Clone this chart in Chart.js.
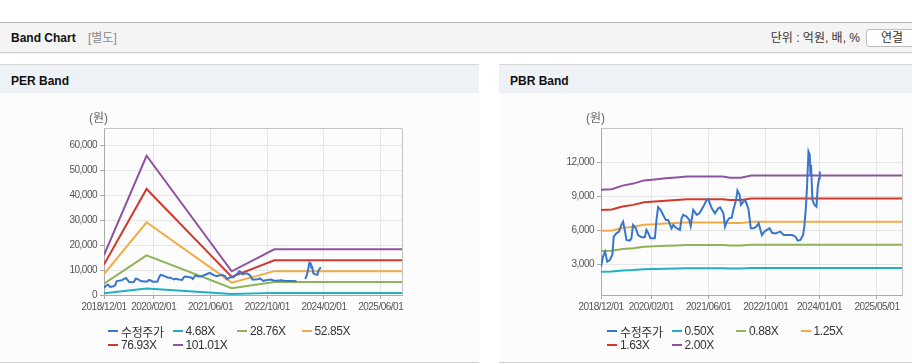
<!DOCTYPE html>
<html lang="ko">
<head>
<meta charset="utf-8">
<script src="https://cdn.jsdelivr.net/npm/chart.js@4.4.1/dist/chart.umd.min.js"></script>
<style>
html,body{margin:0;padding:0;background:#fff;}
body{width:912px;height:364px;position:relative;overflow:hidden;font-family:"Liberation Sans","Noto Sans CJK KR",sans-serif;color:#333;}
.topbar{position:absolute;left:0;top:22px;width:912px;height:29px;background:#f4f4f4;border-top:1px solid #b9b9b9;border-bottom:1px solid #cccccc;box-shadow:0 1px 2px rgba(0,0,0,0.07);}
.topbar .title{position:absolute;left:11px;top:0;line-height:30px;font-weight:bold;font-size:12px;color:#111;}
.topbar .sub{position:absolute;left:88px;top:0;line-height:30px;font-size:12px;color:#8a8a8a;}
.topbar .unit{position:absolute;right:52px;top:0;line-height:30px;font-size:12px;color:#333;}
.topbar .btn{position:absolute;left:866px;top:6px;width:60px;height:16px;border:1px solid #bdbdbd;border-radius:3px;background:#fff;font-size:12px;line-height:16px;padding-left:14px;box-sizing:content-box;color:#333;}
.panel{position:absolute;top:64px;height:297px;background:#fcfcfc;border-top:1px solid #d6d6d6;border-bottom:1px solid #d2d2d2;}
.panel .ph{height:28px;background:#eef2f7;line-height:32px;font-weight:bold;font-size:12px;color:#111;padding-left:11px;}
.unitlbl{position:absolute;top:46px;font-size:12px;line-height:14px;color:#666;z-index:2;}
.chartbox{position:absolute;left:0;top:28px;}
.legend{position:absolute;left:108px;top:259px;width:260px;display:flex;flex-wrap:wrap;z-index:2;}
.legend .item{width:64.5px;height:14px;display:flex;align-items:center;font-size:12px;font-family:"Liberation Sans","Noto Sans CJK KR",sans-serif;letter-spacing:-0.4px;color:#333;white-space:nowrap;}
.legend .mk{width:10px;height:2px;margin-right:3px;flex:none;}
</style>
</head>
<body>
<div class="topbar">
  <span class="title">Band Chart</span>
  <span class="sub">[별도]</span>
  <span class="unit">단위 : 억원, 배, %</span>
  <span class="btn">연결</span>
</div>

<div class="panel" style="left:0;width:479px;">
  <div class="ph">PER Band</div>
  <div class="unitlbl" style="left:89px;">(원)</div>
  <div class="chartbox"><canvas id="perChart" width="479" height="269"></canvas></div>
  <div class="legend" id="perLegend"></div>
</div>

<div class="panel" style="left:499px;width:413px;">
  <div class="ph">PBR Band</div>
  <div class="unitlbl" style="left:87px;">(원)</div>
  <div class="chartbox"><canvas id="pbrChart" width="413" height="269"></canvas></div>
  <div class="legend" id="pbrLegend"></div>
</div>

<script>
// ---------------- DATA ----------------
const xStart = '2018/12/01';
const xEnd = '2025/12/01';
const perXTickLabels = ['2018/12/01','2020/02/01','2021/06/01','2022/10/01','2024/02/01','2025/06/01'];
const pbrXTickLabels = ['2018/12/01','2020/02/01','2021/06/01','2022/10/01','2024/01/01','2025/05/01'];
const perYTicks = [0,10000,20000,30000,40000,50000,60000];
const pbrYTicks = [3000,6000,9000,12000];

// 수정주가 (adjusted price)
const priceDates = ['2018/12/01','2018/12/18','2019/01/05','2019/01/24','2019/02/14','2019/03/06','2019/03/18','2019/04/10','2019/05/02','2019/05/22','2019/06/06','2019/06/20','2019/07/04','2019/08/02','2019/08/16','2019/08/30','2019/09/22','2019/10/12','2019/11/10','2019/12/08','2019/12/22','2020/01/06','2020/01/26','2020/03/02','2020/03/16','2020/03/30','2020/04/20','2020/05/12','2020/06/04','2020/06/24','2020/07/22','2020/08/06','2020/09/04','2020/10/02','2020/10/16','2020/10/30','2020/11/28','2020/12/21','2021/01/02','2021/01/24','2021/02/21','2021/03/15','2021/04/18','2021/05/16','2021/05/30','2021/06/28','2021/07/26','2021/08/24','2021/09/08','2021/10/06','2021/10/20','2021/11/04','2021/11/24','2021/12/16','2021/12/30','2022/01/23','2022/02/03','2022/02/20','2022/03/02','2022/03/25','2022/04/08','2022/05/06','2022/05/26','2022/06/18','2022/07/11','2022/08/01','2022/08/29','2022/09/18','2022/10/10','2022/11/03','2022/11/23','2022/12/21','2023/02/02','2023/03/01','2023/04/12','2023/05/11','2023/06/09','2023/06/28','2023/07/21','2023/08/13','2023/08/24','2023/09/05','2023/09/16','2023/09/28','2023/10/09','2023/10/15','2023/10/20','2023/11/01','2023/11/18','2023/12/05','2023/12/16','2023/12/28','2024/01/03'];
const priceValues = [2820,3700,4140,3260,3400,3850,5460,5750,5900,6490,6780,6050,5170,5110,5320,6490,6200,5600,5400,5400,6050,5800,5320,5320,6930,8040,7810,7370,6930,6930,6200,6490,6200,6050,7070,7370,7220,6930,6400,7810,7370,7510,8100,8690,8750,7950,7510,7950,8040,7510,6340,6780,7070,7130,7810,8690,9510,9130,8250,8540,8690,7870,6200,6200,6340,6630,5600,5900,6050,6200,5800,5750,5900,5600,5600,5600,5460,5110,5170,5600,6340,7810,9860,12940,12650,10890,11770,8690,8250,8100,9860,10590,11180];
// period with no price shown on the PER chart
const perPriceGap = ['2023/06/20','2023/08/20'];

// PER band
const perSeriesNames = ['수정주가','4.68X','28.76X','52.85X','76.93X','101.01X'];
const perBandDates = ['2018/12/01','2019/12/01','2021/12/01','2022/12/01','2025/12/01'];
const per468  = [740, 2580, 440, 850, 850];
const per2876 = [4550, 15850, 2700, 5200, 5200];
const per5285 = [8370, 29100, 4960, 9550, 9550];
const per7693 = [12180, 42400, 7220, 13900, 13900];
const per10101 = [15960, 55700, 9480, 18300, 18300];

// PBR band
const pbrSeriesNames = ['수정주가','0.50X','0.88X','1.25X','1.63X','2.00X'];
const pbrBandDates = ['2018/12/01','2019/03/01','2019/06/01','2019/09/01','2019/12/01','2020/03/01','2020/06/01','2020/09/01','2020/12/01','2021/10/01','2021/12/01','2022/03/01','2022/06/01','2025/12/01'];
const pbr050 = [2390,2400,2490,2530,2600,2620,2650,2670,2690,2690,2660,2660,2710,2710];
const pbr088 = [4210,4230,4370,4450,4580,4610,4660,4690,4730,4730,4680,4680,4760,4760];
const pbr125 = [5980,6010,6210,6330,6500,6550,6610,6660,6710,6710,6650,6650,6760,6760];
const pbr163 = [7800,7840,8100,8250,8480,8540,8620,8690,8750,8750,8670,8670,8820,8820];
const pbr200 = [9570,9620,9940,10120,10400,10480,10580,10660,10740,10740,10640,10640,10820,10820];

const perYMax = 66800;
const pbrYMin = 340, pbrYMax = 15000;

// ---------------- STYLE ----------------
const seriesColors = ['#3876cc','#1fb0c4','#8fb356','#f2aa43','#d3382d','#8e54a0'];
const tickFont = {family:'"Liberation Sans",sans-serif', size:10};

// ---------------- HELPERS ----------------
function monthIndex(s){
  const [y,m,d] = s.split('/').map(Number);
  const [y0,m0] = xStart.split('/').map(Number);
  const dim = new Date(y, m, 0).getDate();
  return (y-y0)*12 + (m-m0) + (d-1)/dim;
}
function pts(dates, values){ return dates.map((d,i)=>({x:monthIndex(d), y:values[i]})); }
function gapPts(dates, values, gap){
  const a = monthIndex(gap[0]), b = monthIndex(gap[1]);
  return dates.map((d,i)=>{ const x = monthIndex(d); return {x, y:(x>a && x<b)?null:values[i]}; });
}

const condensePlugin = {
  id:'condense',
  beforeUpdate(chart){ chart.ctx.letterSpacing = '-0.5px'; },
  beforeDraw(chart){ chart.ctx.letterSpacing = '-0.5px'; }
};

const framePlugin = {
  id:'frame',
  beforeDatasetsDraw(chart){
    const {ctx, chartArea:a} = chart;
    ctx.save();
    ctx.lineWidth = 1;
    ctx.strokeStyle = '#c4c4c4';
    ctx.beginPath();
    ctx.moveTo(Math.round(a.left)+0.5, Math.round(a.top)+0.5);
    ctx.lineTo(Math.round(a.right)+0.5, Math.round(a.top)+0.5);
    ctx.lineTo(Math.round(a.right)+0.5, Math.round(a.bottom)+0.5);
    ctx.stroke();
    ctx.restore();
  }
};

function buildChart(canvasId, legendId, names, datasetsData, xLabels, yTicks, yMin, yMax, yAxisWidth, padRight){
  const xTickVals = xLabels.map(monthIndex);
  const datasets = datasetsData.map((data,i)=>({
    label: names[i], data, borderColor: seriesColors[i], backgroundColor: seriesColors[i],
    borderWidth: 2, pointRadius: 0, pointHoverRadius: 0, tension: 0, fill: false, spanGaps: false
  }));
  const chart = new Chart(document.getElementById(canvasId), {
    type: 'line',
    data: {datasets},
    plugins: [condensePlugin, framePlugin],
    options: {
      responsive: false, animation: false, events: [],
      layout: {padding: {left: 0, top: 35, right: padRight, bottom: 47}},
      plugins: {legend: {display: false}, tooltip: {enabled: false}},
      scales: {
        x: {
          type: 'linear', min: monthIndex(xStart), max: monthIndex(xEnd),
          afterBuildTicks: s => { s.ticks = xTickVals.map(v=>({value:v})); },
          afterFit: s => { s.height = 20; },
          ticks: {autoSkip:false, maxRotation:0, padding:2, color:'#555', font:tickFont,
                  callback: (v,i) => xLabels[i]},
          grid: {color:'#e6e6e6', tickColor:'#aaaaaa', tickLength:4, drawTicks:true},
          border: {color:'#aaaaaa'}
        },
        y: {
          type: 'linear', min: yMin, max: yMax,
          afterBuildTicks: s => { s.ticks = yTicks.map(v=>({value:v})); },
          afterFit: s => { s.width = yAxisWidth; },
          ticks: {padding:3, color:'#555', font:tickFont,
                  callback: v => Number(v).toLocaleString('en-US')},
          grid: {color:'#e6e6e6', tickColor:'#aaaaaa', tickLength:4, drawTicks:true},
          border: {color:'#aaaaaa'}
        }
      }
    }
  });
  const lg = document.getElementById(legendId);
  chart.data.datasets.forEach(ds=>{
    const it = document.createElement('div'); it.className='item';
    const mk = document.createElement('span'); mk.className='mk'; mk.style.background = ds.borderColor;
    const tx = document.createElement('span'); tx.textContent = ds.label;
    it.appendChild(mk); it.appendChild(tx); lg.appendChild(it);
  });
  return chart;
}

buildChart('perChart','perLegend', perSeriesNames, [
  gapPts(priceDates, priceValues, perPriceGap),
  pts(perBandDates, per468), pts(perBandDates, per2876), pts(perBandDates, per5285),
  pts(perBandDates, per7693), pts(perBandDates, per10101)
], perXTickLabels, perYTicks, 0, perYMax, 104, 77);

buildChart('pbrChart','pbrLegend', pbrSeriesNames, [
  pts(priceDates, priceValues),
  pts(pbrBandDates, pbr050), pts(pbrBandDates, pbr088), pts(pbrBandDates, pbr125),
  pts(pbrBandDates, pbr163), pts(pbrBandDates, pbr200)
], pbrXTickLabels, pbrYTicks, pbrYMin, pbrYMax, 102, 10);
</script>
</body>
</html>
